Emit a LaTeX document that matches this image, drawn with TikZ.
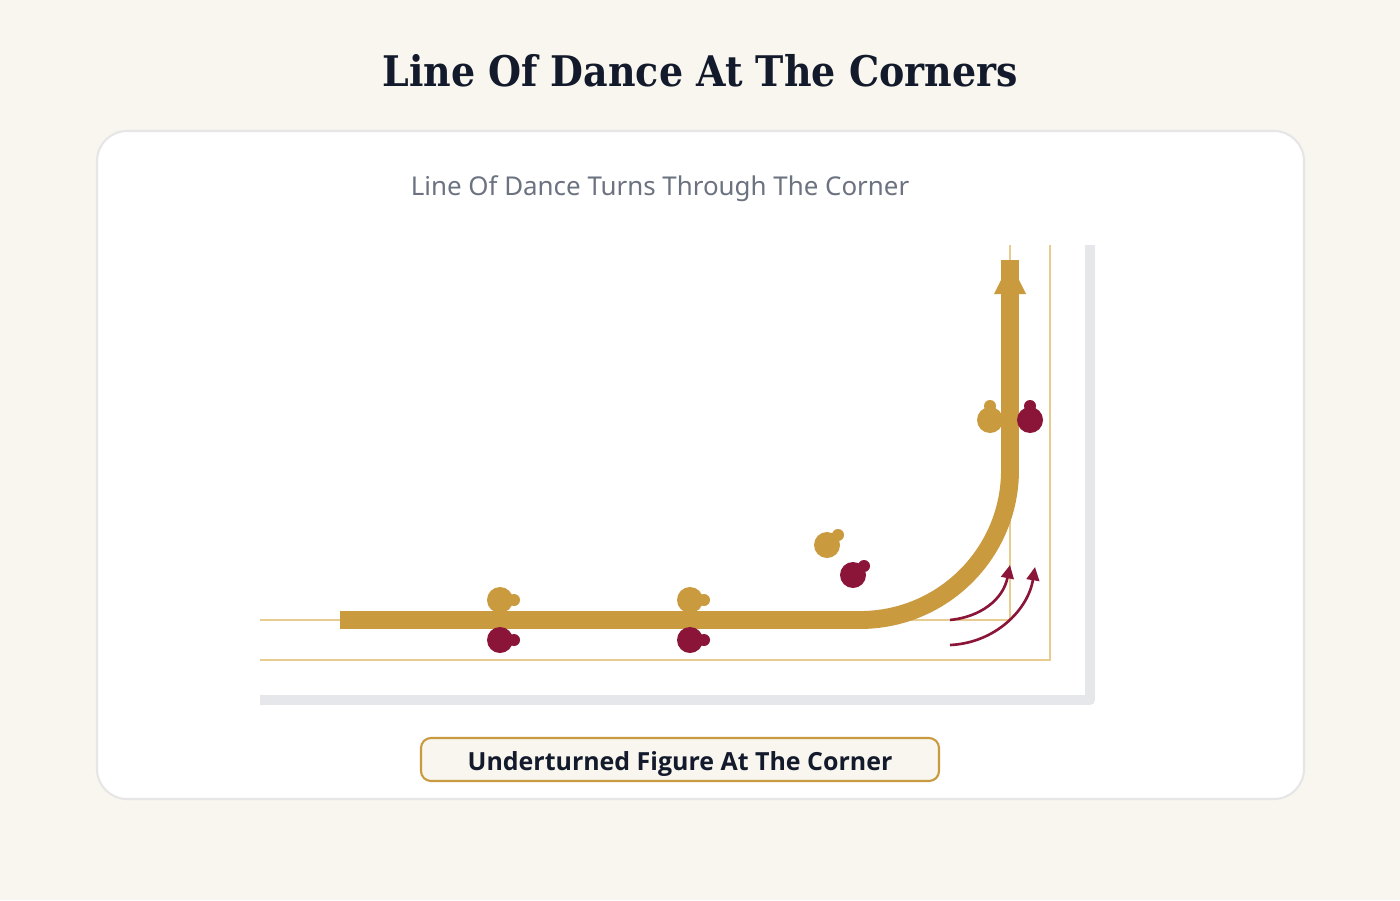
\documentclass[tikz,border=0pt]{standalone}
\usepackage{fontspec}
\setmainfont{Noto Sans}
\newfontfamily\headfont{DejaVu Serif Condensed}
\newfontfamily\capfont{Open Sans}
\usetikzlibrary{arrows.meta}
\definecolor{creambg}{HTML}{F8F6EF}
\definecolor{cardedge}{HTML}{E6E6E6}
\definecolor{wallgray}{HTML}{E5E7EB}
\definecolor{goldline}{HTML}{E8CB8E}
\definecolor{golden}{HTML}{C99A3E}
\definecolor{maroon}{HTML}{8A1538}
\definecolor{inkdark}{HTML}{131A2B}
\definecolor{subgray}{HTML}{6B7280}
\begin{document}
\begin{tikzpicture}[x=0.1mm, y=-0.1mm,
    wall/.style={draw=wallgray, line width=2.85pt, line join=round},
    guide/.style={draw=goldline, line width=0.45pt},
    lod/.style={draw=golden, line width=5.1pt},
    turn/.style={draw=maroon, line width=0.75pt, -{Triangle[length=3.8pt,width=3.6pt]}},
    lead/.style={fill=golden},
    follow/.style={fill=maroon}]
  \useasboundingbox (0,0) rectangle (1400,900);
  \fill[creambg] (0,0) rectangle (1400,900);
  \node[anchor=base, text=inkdark, font=\headfont\bfseries\fontsize{12}{14}\selectfont] (title) at (700,87) {Line Of Dance At The Corners};
  \draw[cardedge, line width=0.6pt, fill=white, rounded corners=3mm] (97,131) rectangle (1304,799);
  \node[anchor=base, text=subgray, font=\fontsize{7.37}{9}\selectfont] (subtitle) at (660,195) {Line Of Dance Turns Through The Corner};
  % room walls and guide lines
  \draw[wall] (260,700) -- (1090,700) -- (1090,245);
  \draw[guide] (260,660) -- (1050,660) -- (1050,245);
  \draw[guide] (260,620) -- (1010,620) -- (1010,245);
  % line of dance
  \draw[lod, rounded corners=15mm] (340,620) -- (1010,620) -- (1010,260);
  \fill[golden] (1010,262) -- (1026,294) -- (994,294) -- cycle;
  % couples
  \fill[lead] (500,600) circle (13) (514,600) circle (6);
  \fill[follow] (500,640) circle (13) (514,640) circle (6);
  \fill[lead] (690,600) circle (13) (704,600) circle (6);
  \fill[follow] (690,640) circle (13) (704,640) circle (6);
  \fill[lead] (827,545) circle (13) (838,535) circle (6);
  \fill[follow] (853,575) circle (13) (864,566) circle (6);
  \fill[lead] (990,420) circle (13) (990,406) circle (6);
  \fill[follow] (1030,420) circle (13) (1030,406) circle (6);
  % turning arrows
  \draw[turn] (950,620) .. controls (980,617) and (1003,600) .. (1010,565);
  \draw[turn] (950,645) .. controls (995,643) and (1028,610) .. (1035,567);
  % caption
  \draw[golden, line width=0.6pt, fill=creambg, rounded corners=1mm] (421,738) rectangle (939,781);
  \node[anchor=base, text=inkdark, font=\capfont\bfseries\fontsize{7.1}{9}\selectfont] (caption) at (680,770) {Underturned Figure At The Corner};
\end{tikzpicture}
\end{document}
